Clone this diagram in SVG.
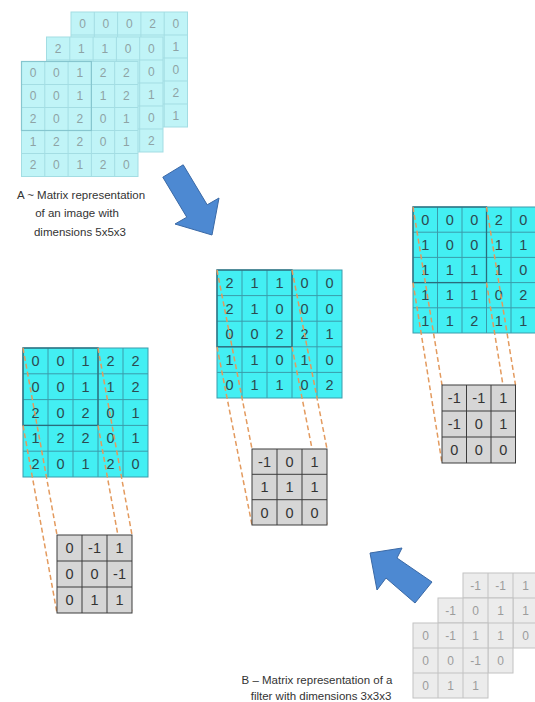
<svg xmlns="http://www.w3.org/2000/svg" width="535" height="702" viewBox="0 0 535 702">
<style>
.pale{fill:#c0f4f7;stroke:#a3dde3;stroke-width:1}
.paleg{fill:none;stroke:#a3dde3;stroke-width:1}
.palet{font-family:"Liberation Sans",Arial,sans-serif;font-size:12px;fill:#8ea3a5;text-anchor:middle}
.cy{fill:#43eff3;stroke:#3a9cab;stroke-width:1}
.cyg{fill:none;stroke:#3a9cab;stroke-width:1}
.cyo{fill:none;stroke:#2b6c7c;stroke-width:1.3}
.cyt{font-family:"Liberation Sans",Arial,sans-serif;font-size:14.5px;fill:#2c4a50;text-anchor:middle}
.flt{fill:#d6d6d6;stroke:#3c3c3c;stroke-width:1}
.fltg{fill:none;stroke:#3c3c3c;stroke-width:1}
.fltt{font-family:"Liberation Sans",Arial,sans-serif;font-size:14.5px;fill:#333;text-anchor:middle}
.gr{fill:#ececec;stroke:#c2c2c2;stroke-width:1}
.grg{fill:none;stroke:#c2c2c2;stroke-width:1}
.grt{font-family:"Liberation Sans",Arial,sans-serif;font-size:12px;fill:#9c9c9c;text-anchor:middle}
.cap{font-family:"Liberation Sans",Arial,sans-serif;font-size:11.5px;fill:#333;text-anchor:middle}
.dash{stroke:#e39a5e;stroke-width:1.5;stroke-dasharray:5 3;fill:none}
.arr{fill:#4d89d2;stroke:#3a69a6;stroke-width:1}
</style>

<g id="image-stack">
  <rect class="pale" x="71" y="12" width="116.5" height="115"/>
  <path class="paleg" d="M94.3 12V127M117.6 12V127M140.9 12V127M164.2 12V127M71 35H187.5M71 58H187.5M71 81H187.5M71 104H187.5"/>
  <rect class="pale" x="46.5" y="37" width="116.5" height="115"/>
  <path class="paleg" d="M69.8 37V152M93.1 37V152M116.4 37V152M139.7 37V152M46.5 60H163M46.5 83H163M46.5 106H163M46.5 129H163"/>
  <rect class="pale" x="21.5" y="61.5" width="116.5" height="115"/>
  <path class="paleg" d="M44.8 61.5V176.5M68.1 61.5V176.5M91.4 61.5V176.5M114.7 61.5V176.5M21.5 84.5H138M21.5 107.5H138M21.5 130.5H138M21.5 153.5H138"/>
  <rect x="21.5" y="61.5" width="69.9" height="69" fill="none" stroke="#86c6cf" stroke-width="1.2"/>
  <g class="palet">
    <text x="82.65" y="27.7">0</text><text x="105.95" y="27.7">0</text><text x="129.25" y="27.7">0</text><text x="152.55" y="27.7">2</text><text x="175.85" y="27.7">0</text>
    <text x="175.85" y="50.7">1</text><text x="175.85" y="73.7">0</text><text x="175.85" y="96.7">2</text><text x="175.85" y="119.7">1</text>
    <text x="58.15" y="52.7">2</text><text x="81.45" y="52.7">1</text><text x="104.75" y="52.7">1</text><text x="128.05" y="52.7">0</text><text x="151.35" y="52.7">0</text>
    <text x="151.35" y="75.7">0</text><text x="151.35" y="98.7">1</text><text x="151.35" y="121.7">0</text><text x="151.35" y="144.7">2</text>
    <text x="33.15" y="77.2">0</text><text x="56.45" y="77.2">0</text><text x="79.75" y="77.2">1</text><text x="103.05" y="77.2">2</text><text x="126.35" y="77.2">2</text>
    <text x="33.15" y="100.2">0</text><text x="56.45" y="100.2">0</text><text x="79.75" y="100.2">1</text><text x="103.05" y="100.2">1</text><text x="126.35" y="100.2">2</text>
    <text x="33.15" y="123.2">2</text><text x="56.45" y="123.2">0</text><text x="79.75" y="123.2">2</text><text x="103.05" y="123.2">0</text><text x="126.35" y="123.2">1</text>
    <text x="33.15" y="146.2">1</text><text x="56.45" y="146.2">2</text><text x="79.75" y="146.2">2</text><text x="103.05" y="146.2">0</text><text x="126.35" y="146.2">1</text>
    <text x="33.15" y="169.2">2</text><text x="56.45" y="169.2">0</text><text x="79.75" y="169.2">1</text><text x="103.05" y="169.2">2</text><text x="126.35" y="169.2">0</text>
  </g>
</g>

<g id="caption-a" class="cap">
  <text x="81" y="199">A ~ Matrix representation</text>
  <text x="77" y="217">of an image with</text>
  <text x="80" y="236">dimensions 5x5x3</text>
</g>

<g id="arrow-down">
  <polygon class="arr" points="162.8,177.2 183.2,164.8 207.2,204.8 219,198 212,235 175,224 186.8,217.2"/>
</g>

<g id="matrix-left">
  <rect class="cy" x="23" y="348" width="125" height="129"/>
  <path class="cyg" d="M48 348V477M73 348V477M98 348V477M123 348V477M23 373.8H148M23 399.6H148M23 425.4H148M23 451.2H148"/>
  <rect class="cyo" x="23" y="348" width="75" height="77.4"/>
  <g class="cyt">
    <text x="35.5" y="366">0</text><text x="60.5" y="366">0</text><text x="85.5" y="366">1</text><text x="110.5" y="366">2</text><text x="135.5" y="366">2</text>
    <text x="35.5" y="391.8">0</text><text x="60.5" y="391.8">0</text><text x="85.5" y="391.8">1</text><text x="110.5" y="391.8">1</text><text x="135.5" y="391.8">2</text>
    <text x="35.5" y="417.6">2</text><text x="60.5" y="417.6">0</text><text x="85.5" y="417.6">2</text><text x="110.5" y="417.6">0</text><text x="135.5" y="417.6">1</text>
    <text x="35.5" y="443.4">1</text><text x="60.5" y="443.4">2</text><text x="85.5" y="443.4">2</text><text x="110.5" y="443.4">0</text><text x="135.5" y="443.4">1</text>
    <text x="35.5" y="469.2">2</text><text x="60.5" y="469.2">0</text><text x="85.5" y="469.2">1</text><text x="110.5" y="469.2">2</text><text x="135.5" y="469.2">0</text>
  </g>
</g>

<g id="matrix-middle">
  <rect class="cy" x="217" y="270" width="125" height="128"/>
  <path class="cyg" d="M242 270V398M267 270V398M292 270V398M317 270V398M217 295.6H342M217 321.2H342M217 346.8H342M217 372.4H342"/>
  <rect class="cyo" x="217" y="270" width="75" height="76.8"/>
  <g class="cyt">
    <text x="229.5" y="288">2</text><text x="254.5" y="288">1</text><text x="279.5" y="288">1</text><text x="304.5" y="288">0</text><text x="329.5" y="288">0</text>
    <text x="229.5" y="313.6">2</text><text x="254.5" y="313.6">1</text><text x="279.5" y="313.6">0</text><text x="304.5" y="313.6">0</text><text x="329.5" y="313.6">0</text>
    <text x="229.5" y="339.2">0</text><text x="254.5" y="339.2">0</text><text x="279.5" y="339.2">2</text><text x="304.5" y="339.2">2</text><text x="329.5" y="339.2">1</text>
    <text x="229.5" y="364.8">1</text><text x="254.5" y="364.8">1</text><text x="279.5" y="364.8">0</text><text x="304.5" y="364.8">1</text><text x="329.5" y="364.8">0</text>
    <text x="229.5" y="390.4">0</text><text x="254.5" y="390.4">1</text><text x="279.5" y="390.4">1</text><text x="304.5" y="390.4">0</text><text x="329.5" y="390.4">2</text>
  </g>
</g>

<g id="matrix-right">
  <rect class="cy" x="413" y="207" width="122.5" height="126"/>
  <path class="cyg" d="M437.5 207V333M462 207V333M486.5 207V333M511 207V333M413 232.2H535.5M413 257.4H535.5M413 282.6H535.5M413 307.8H535.5"/>
  <rect class="cyo" x="413" y="207" width="73.5" height="75.6"/>
  <g class="cyt">
    <text x="425.25" y="224.8">0</text><text x="449.75" y="224.8">0</text><text x="474.25" y="224.8">0</text><text x="498.75" y="224.8">2</text><text x="523.25" y="224.8">0</text>
    <text x="425.25" y="250">1</text><text x="449.75" y="250">0</text><text x="474.25" y="250">0</text><text x="498.75" y="250">1</text><text x="523.25" y="250">1</text>
    <text x="425.25" y="275.2">1</text><text x="449.75" y="275.2">1</text><text x="474.25" y="275.2">1</text><text x="498.75" y="275.2">1</text><text x="523.25" y="275.2">0</text>
    <text x="425.25" y="300.4">1</text><text x="449.75" y="300.4">1</text><text x="474.25" y="300.4">1</text><text x="498.75" y="300.4">0</text><text x="523.25" y="300.4">2</text>
    <text x="425.25" y="325.6">1</text><text x="449.75" y="325.6">1</text><text x="474.25" y="325.6">2</text><text x="498.75" y="325.6">1</text><text x="523.25" y="325.6">1</text>
  </g>
</g>

<g id="connectors" class="dash">
  <line x1="23" y1="348" x2="57" y2="535"/>
  <line x1="23" y1="425.4" x2="57" y2="613"/>
  <line x1="98" y1="348" x2="132" y2="535"/>
  <line x1="98" y1="425.4" x2="132" y2="613"/>
  <line x1="217" y1="270" x2="252" y2="449"/>
  <line x1="217" y1="346.8" x2="252" y2="525"/>
  <line x1="292" y1="270" x2="327" y2="449"/>
  <line x1="292" y1="346.8" x2="327" y2="525"/>
  <line x1="413" y1="207" x2="442" y2="385"/>
  <line x1="413" y1="282.6" x2="442" y2="463"/>
  <line x1="486.5" y1="207" x2="515.5" y2="385"/>
  <line x1="486.5" y1="282.6" x2="515.5" y2="463"/>
</g>

<g id="filter-left">
  <rect class="flt" x="57" y="535" width="75" height="78"/>
  <path class="fltg" d="M82 535V613M107 535V613M57 561H132M57 587H132"/>
  <g class="fltt">
    <text x="69.5" y="553.2">0</text><text x="94.5" y="553.2">-1</text><text x="119.5" y="553.2">1</text>
    <text x="69.5" y="579.2">0</text><text x="94.5" y="579.2">0</text><text x="119.5" y="579.2">-1</text>
    <text x="69.5" y="605.2">0</text><text x="94.5" y="605.2">1</text><text x="119.5" y="605.2">1</text>
  </g>
</g>

<g id="filter-middle">
  <rect class="flt" x="252" y="449" width="75" height="76"/>
  <path class="fltg" d="M277 449V525M302 449V525M252 474.3H327M252 499.7H327"/>
  <g class="fltt">
    <text x="264.5" y="466.9">-1</text><text x="289.5" y="466.9">0</text><text x="314.5" y="466.9">1</text>
    <text x="264.5" y="492.2">1</text><text x="289.5" y="492.2">1</text><text x="314.5" y="492.2">1</text>
    <text x="264.5" y="517.5">0</text><text x="289.5" y="517.5">0</text><text x="314.5" y="517.5">0</text>
  </g>
</g>

<g id="filter-right">
  <rect class="flt" x="442" y="385" width="73.5" height="78"/>
  <path class="fltg" d="M466.5 385V463M491 385V463M442 411H515.5M442 437H515.5"/>
  <g class="fltt">
    <text x="454.25" y="403.2">-1</text><text x="478.75" y="403.2">-1</text><text x="503.25" y="403.2">1</text>
    <text x="454.25" y="429.2">-1</text><text x="478.75" y="429.2">0</text><text x="503.25" y="429.2">1</text>
    <text x="454.25" y="455.2">0</text><text x="478.75" y="455.2">0</text><text x="503.25" y="455.2">0</text>
  </g>
</g>

<g id="arrow-up">
  <polygon class="arr" points="370,553 402,548 397,558 432,582 415,603 386,578 377,590"/>
</g>

<g id="filter-stack">
  <rect class="gr" x="463" y="573" width="75" height="75"/>
  <path class="grg" d="M488 573V648M513 573V648M463 598H538M463 623H538"/>
  <rect class="gr" x="438" y="598" width="75" height="75"/>
  <path class="grg" d="M463 598V673M488 598V673M438 623H513M438 648H513"/>
  <rect class="gr" x="413" y="623" width="75" height="75"/>
  <path class="grg" d="M438 623V698M463 623V698M413 648H488M413 673H488"/>
  <g class="grt">
    <text x="475.5" y="589.7">-1</text><text x="500.5" y="589.7">-1</text><text x="525.5" y="589.7">1</text>
    <text x="525.5" y="614.7">1</text><text x="525.5" y="639.7">0</text>
    <text x="450.5" y="614.7">-1</text><text x="475.5" y="614.7">0</text><text x="500.5" y="614.7">1</text>
    <text x="500.5" y="639.7">1</text><text x="500.5" y="664.7">0</text>
    <text x="425.5" y="639.7">0</text><text x="450.5" y="639.7">-1</text><text x="475.5" y="639.7">1</text>
    <text x="425.5" y="664.7">0</text><text x="450.5" y="664.7">0</text><text x="475.5" y="664.7">-1</text>
    <text x="425.5" y="689.7">0</text><text x="450.5" y="689.7">1</text><text x="475.5" y="689.7">1</text>
  </g>
</g>

<g id="caption-b" class="cap">
  <text x="317" y="684">B – Matrix representation of a</text>
  <text x="321" y="700">filter with dimensions 3x3x3</text>
</g>
</svg>
